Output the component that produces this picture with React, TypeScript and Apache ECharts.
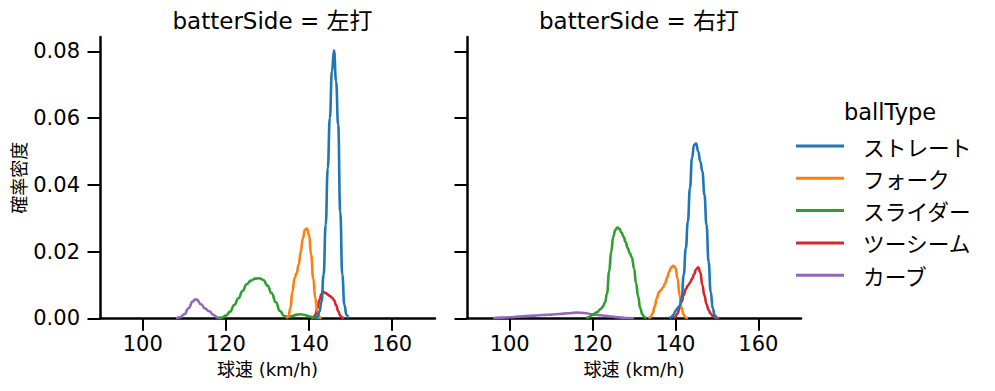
import { useEffect, useRef } from "react";
import * as echarts from "echarts";

const ballTypes = ["ストレート", "フォーク", "スライダー", "ツーシーム", "カーブ"];
const colors = ["#1f77b4", "#ff7f0e", "#2ca02c", "#d62728", "#9467bd"];
const panelTitles = ["batterSide = 左打", "batterSide = 右打"];
const xTicks = [100, 120, 140, 160];
const yTicks = [0, 0.02, 0.04, 0.06, 0.08];

// 左打
const leftStraight = [
  [141.5, 0], [142, 0.0005], [142.5, 0.002], [143, 0.005], [143.5, 0.013], [144, 0.028],
  [144.5, 0.045], [145, 0.06], [145.5, 0.074], [146, 0.0803], [146.5, 0.071], [147, 0.058],
  [147.5, 0.032], [148, 0.013], [148.5, 0.004], [149, 0.001], [149.5, 0],
];
const leftFork = [
  [134.5, 0], [135, 0.0005], [135.5, 0.003], [136, 0.008], [136.5, 0.012], [137, 0.0135],
  [137.5, 0.016], [138, 0.02], [138.5, 0.024], [139, 0.0265], [139.5, 0.0269], [140, 0.025],
  [140.5, 0.019], [141, 0.012], [141.5, 0.006], [142, 0.002], [142.5, 0.0003], [143, 0],
];
const leftSlider = [
  [118, 0], [119, 0.0002], [120, 0.0008], [121, 0.002], [122, 0.004], [123, 0.006],
  [124, 0.0082], [125, 0.0102], [126, 0.0113], [127, 0.0119], [128, 0.012], [129, 0.0115],
  [130, 0.0098], [131, 0.0075], [132, 0.0048], [133, 0.0022], [134, 0.0007], [135, 0.0004],
  [136, 0.0007], [137, 0.0011], [138, 0.0012], [139, 0.001], [140, 0.0006], [141, 0.0003],
  [142, 0.0001], [143, 0],
];
const leftTwoSeam = [
  [140.5, 0], [141, 0.0002], [141.5, 0.001], [142, 0.003], [142.5, 0.0055], [143, 0.0073],
  [143.5, 0.0079], [144, 0.0076], [144.5, 0.0071], [145, 0.0067], [145.5, 0.0062], [146, 0.0055],
  [146.5, 0.004], [147, 0.0022], [147.5, 0.0008], [148, 0.0002], [148.5, 0],
];
const leftCurve = [
  [108, 0], [109, 0.0003], [110, 0.0012], [111, 0.003], [112, 0.005], [112.5, 0.0056],
  [113, 0.0056], [114, 0.0042], [115, 0.0029], [116, 0.0021], [117, 0.001], [118, 0.0002],
  [118.5, 0],
];

// 右打
const rightStraight = [
  [138.5, 0], [139, 0.0003], [139.5, 0.001], [140, 0.0022], [140.5, 0.003], [141, 0.0037],
  [141.5, 0.006], [142, 0.013], [142.5, 0.021], [143, 0.029], [143.5, 0.039], [144, 0.048],
  [144.5, 0.052], [145, 0.0524], [145.5, 0.05], [146, 0.047], [146.5, 0.044], [147, 0.037],
  [147.5, 0.028], [148, 0.017], [148.5, 0.008], [149, 0.003], [149.5, 0.0008], [150, 0],
];
const rightFork = [
  [133.5, 0], [134, 0.0003], [134.5, 0.0015], [135, 0.0035], [135.5, 0.006], [136, 0.0078],
  [136.5, 0.0085], [137, 0.0092], [137.5, 0.0105], [138, 0.0122], [138.5, 0.014], [139, 0.0153],
  [139.5, 0.0157], [140, 0.0152], [140.5, 0.012], [141, 0.007], [141.5, 0.003], [142, 0.001],
  [142.5, 0.0002], [143, 0],
];
const rightSlider = [
  [118.5, 0], [119, 0.0003], [120, 0.001], [121, 0.0018], [122, 0.0028], [122.5, 0.0035],
  [123, 0.0048], [123.5, 0.0075], [124, 0.014], [124.5, 0.02], [125, 0.0245], [125.5, 0.0265],
  [126, 0.0272], [126.5, 0.0268], [127, 0.0256], [127.5, 0.0244], [128, 0.0228], [128.5, 0.021],
  [129, 0.0195], [129.5, 0.0182], [130, 0.015], [130.5, 0.0105], [131, 0.0065], [131.5, 0.003],
  [132, 0.0012], [132.5, 0.0003], [133, 0],
];
const rightTwoSeam = [
  [139.5, 0], [140, 0.0005], [140.5, 0.0015], [141, 0.003], [141.5, 0.005], [142, 0.007],
  [142.5, 0.0088], [143, 0.0098], [143.5, 0.0106], [144, 0.0118], [144.5, 0.0132], [145, 0.0147],
  [145.5, 0.0153], [146, 0.0138], [146.5, 0.01], [147, 0.0068], [147.5, 0.0042], [148, 0.0025],
  [148.5, 0.0014], [149, 0.0007], [149.5, 0.0003], [150, 0.0001], [150.5, 0],
];
const rightCurve = [
  [96, 0.0001], [98, 0.0002], [100, 0.0003], [102, 0.0005], [104, 0.0007], [106, 0.0008],
  [108, 0.001], [110, 0.0011], [112, 0.0013], [114, 0.0015], [116, 0.0017], [118, 0.0016],
  [120, 0.0012], [122, 0.0009], [124, 0.0006], [126, 0.0003], [128, 0.0001], [130, 0],
];

const panels = [
  [leftStraight, leftFork, leftSlider, leftTwoSeam, leftCurve],
  [rightStraight, rightFork, rightSlider, rightTwoSeam, rightCurve],
];

const FONT = "'DejaVu Sans', 'Noto Sans CJK JP', sans-serif";
const CJK = "'Noto Sans CJK JP', sans-serif";

export default function App() {
  const ref = useRef<HTMLDivElement>(null);
  useEffect(() => {
    if (!ref.current) return;
    const chart = echarts.init(ref.current, null, { renderer: "svg" });
    const grids = [
      { left: 100, top: 37, width: 335, height: 281.3 },
      { left: 467, top: 37, width: 334, height: 281.3 },
    ];
    const axisLine = { show: true, lineStyle: { color: "#000", width: 2.5 } };
    const axisTick = { show: true, length: 12.5, lineStyle: { color: "#000", width: 2 } };
    const xAxes = grids.map((_, i) => ({
      type: "value",
      gridIndex: i,
      min: 89.7,
      max: 170.3,
      splitLine: { show: false },
      axisLine,
      axisTick: { ...axisTick, customValues: xTicks },
      axisLabel: {
        customValues: xTicks,
        fontSize: 21,
        color: "#000",
        fontFamily: FONT,
        margin: 15,
      },
      name: "球速 (km/h)",
      nameLocation: "middle",
      nameGap: 42,
      nameTextStyle: { fontSize: 18, color: "#000", fontFamily: FONT },
    }));
    const yAxes = grids.map((_, i) => ({
      type: "value",
      gridIndex: i,
      min: 0,
      max: 0.0843,
      splitLine: { show: false },
      axisLine,
      axisTick: { ...axisTick, customValues: yTicks },
      axisLabel: {
        show: i === 0,
        customValues: yTicks,
        formatter: (v: number) => v.toFixed(2),
        fontSize: 21,
        color: "#000",
        fontFamily: FONT,
        margin: 20,
      },
      name: i === 0 ? "確率密度" : "",
      nameLocation: "middle",
      nameGap: 73,
      nameRotate: 90,
      nameTextStyle: { fontSize: 18, color: "#000", fontFamily: CJK },
    }));
    const series: any[] = [];
    panels.forEach((panel, p) => {
      for (let k = ballTypes.length - 1; k >= 0; k--) {
        series.push({
          type: "line",
          name: ballTypes[k],
          xAxisIndex: p,
          yAxisIndex: p,
          data: panel[k],
          smooth: true,
          smoothMonotone: "x",
          showSymbol: false,
          symbol: "none",
          lineStyle: { color: colors[k], width: 2.6 },
          itemStyle: { color: colors[k] },
          z: 10 - k,
        });
      }
    });
    chart.setOption({
      animation: false,
      backgroundColor: "#fff",
      title: [
        ...panelTitles.map((t, i) => ({
          text: t,
          left: grids[i].left + grids[i].width / 2,
          textAlign: "center",
          top: 4,
          textStyle: { fontSize: 23, fontWeight: "normal", color: "#000", fontFamily: FONT },
        })),
        {
          text: "ballType",
          left: 885,
          textAlign: "center",
          top: 96,
          textStyle: { fontSize: 22.5, fontWeight: "normal", color: "#000", fontFamily: FONT },
        },
      ],
      legend: {
        orient: "vertical",
        left: 796,
        top: 134,
        padding: 0,
        itemWidth: 48,
        itemHeight: 3,
        itemGap: 8.3,
        icon: "rect",
        data: ballTypes,
        textStyle: {
          fontSize: 21.7,
          lineHeight: 24,
          color: "#000",
          fontFamily: CJK,
          padding: [0, 0, 0, 14],
        },
      },
      grid: grids,
      xAxis: xAxes,
      yAxis: yAxes,
      series,
    });
    return () => chart.dispose();
  }, []);
  return (
    <div
      ref={ref}
      style={{ position: "absolute", left: 0, top: 0, width: 995, height: 391 }}
    />
  );
}
